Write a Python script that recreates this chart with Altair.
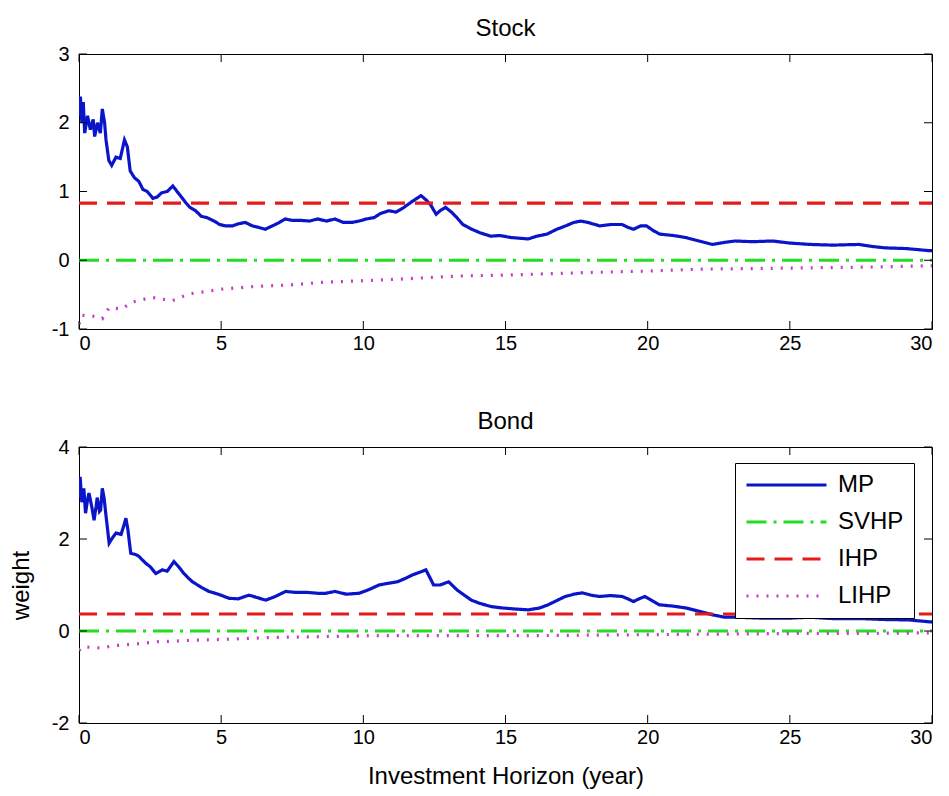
import altair as alt
import pandas as pd

# ---------------- data ----------------
x_ticks = [0, 5, 10, 15, 20, 25, 30]
stock_y_ticks = [-1, 0, 1, 2, 3]
bond_y_ticks = [-2, 0, 2, 4]

series_names = ["MP", "SVHP", "IHP", "LIHP"]

stock_mp_t = [0.0, 0.05, 0.1, 0.15, 0.2, 0.3, 0.4, 0.5, 0.55, 0.65, 0.75, 0.82, 0.9, 0.95,
              1.05, 1.15, 1.3, 1.45, 1.6, 1.7, 1.8, 1.95, 2.1, 2.25, 2.4, 2.6, 2.75, 2.9,
              3.1, 3.3, 3.45, 3.6, 3.75, 3.9, 4.1, 4.3, 4.5, 4.75, 4.95, 5.15, 5.4, 5.6,
              5.85, 6.1, 6.3, 6.55, 6.8, 7.05, 7.25, 7.5, 7.8, 8.1, 8.4, 8.7, 9.0, 9.3,
              9.6, 9.85, 10.1, 10.38, 10.6, 10.9, 11.15, 11.43, 11.7, 12.03, 12.2, 12.36,
              12.56, 12.7, 12.89, 13.1, 13.29, 13.5, 13.82, 14.1, 14.48, 14.8, 15.2, 15.5,
              15.8, 16.1, 16.46, 16.8, 17.12, 17.4, 17.65, 17.9, 18.31, 18.7, 19.1, 19.3,
              19.5, 19.75, 19.96, 20.2, 20.43, 20.9, 21.35, 21.8, 22.28, 22.7, 23.07, 23.7,
              24.39, 25.0, 25.71, 26.5, 27.43, 27.9, 28.35, 29.1, 29.88, 30.0]
stock_mp = [2.1, 2.38, 2.0, 2.3, 1.85, 2.1, 1.9, 2.05, 1.8, 2.0, 1.85, 2.2, 2.0, 1.75,
            1.45, 1.38, 1.5, 1.48, 1.75, 1.65, 1.3, 1.2, 1.15, 1.03, 1.0, 0.9, 0.92, 0.98,
            1.0, 1.08, 1.0, 0.92, 0.84, 0.77, 0.72, 0.64, 0.62, 0.57, 0.52, 0.5, 0.5, 0.53,
            0.55, 0.5, 0.48, 0.45, 0.5, 0.55, 0.6, 0.58, 0.58, 0.57, 0.6, 0.57, 0.6, 0.55,
            0.55, 0.57, 0.6, 0.62, 0.68, 0.72, 0.7, 0.77, 0.85, 0.94, 0.88, 0.81,
            0.67, 0.72, 0.77, 0.7, 0.62, 0.52, 0.45, 0.4, 0.35, 0.36, 0.33, 0.32,
            0.31, 0.35, 0.38, 0.45, 0.5, 0.55, 0.57, 0.55, 0.5, 0.52, 0.52, 0.48,
            0.45, 0.5, 0.5, 0.43, 0.38, 0.36, 0.33, 0.28, 0.23, 0.26, 0.28, 0.27,
            0.28, 0.25, 0.23, 0.22, 0.23, 0.2, 0.18, 0.17, 0.14, 0.14]

stock_lihp_t = [0.0, 0.1, 0.47, 0.82, 1.06, 1.5, 1.86, 2.56, 3.27, 3.87, 5.04, 6.2, 7.4,
                8.6, 9.85, 11.5, 13.3, 15.5, 17.8, 19.8, 21.8, 23.8, 25.7, 27.7, 30.0]
stock_lihp = [-0.93, -0.8, -0.81, -0.85, -0.69, -0.71, -0.61, -0.54, -0.59, -0.49, -0.42,
              -0.38, -0.36, -0.32, -0.3, -0.27, -0.23, -0.21, -0.18, -0.16, -0.13, -0.12,
              -0.11, -0.1, -0.08]

stock_ihp_t = [0.0, 30.0]
stock_ihp = [0.83, 0.83]
stock_svhp_t = [0.0, 30.0]
stock_svhp = [0.0, 0.0]

bond_mp_t = [0.0, 0.04, 0.1, 0.17, 0.23, 0.3, 0.35, 0.45, 0.53, 0.6, 0.64, 0.72, 0.76, 0.82,
             0.88, 0.94, 1.06, 1.15, 1.3, 1.48, 1.58, 1.65, 1.72, 1.82, 2.0, 2.11, 2.35, 2.5,
             2.7, 2.93, 3.1, 3.34, 3.5, 3.69, 3.85, 3.99, 4.3, 4.57, 4.9, 5.28, 5.6, 5.98,
             6.3, 6.57, 6.9, 7.27, 7.6, 8.0, 8.4, 8.68, 9.0, 9.4, 9.85, 10.2, 10.55, 10.9,
             11.2, 11.5, 11.73, 12.0, 12.2, 12.35, 12.47, 12.7, 13.0, 13.15, 13.3, 13.55,
             13.8, 14.1, 14.5, 14.9, 15.3, 15.8, 16.2, 16.5, 16.8, 17.1, 17.4, 17.7, 18.0,
             18.3, 18.7, 19.1, 19.3, 19.5, 19.7, 19.9, 20.1, 20.4, 20.9, 21.35, 21.8, 22.3,
             22.7, 23.1, 24.0, 25.0, 25.7, 26.5, 27.5, 28.3, 29.2, 29.9, 30.0]
bond_mp = [2.9, 3.35, 2.8, 3.1, 2.56, 2.85, 3.0, 2.7, 2.41, 2.7, 2.9, 2.6, 2.63, 3.1,
           2.9, 2.56, 1.91, 2.0, 2.13, 2.1, 2.3, 2.45, 2.2, 1.69, 1.66, 1.62, 1.47, 1.4,
           1.25, 1.33, 1.3, 1.51, 1.4, 1.25, 1.15, 1.07, 0.95, 0.86, 0.8, 0.71, 0.7, 0.78,
           0.72, 0.67, 0.75, 0.86, 0.84, 0.84, 0.82, 0.82, 0.86, 0.8, 0.82, 0.9, 1.0, 1.04,
           1.07, 1.15, 1.22, 1.28, 1.33, 1.15, 1.0, 1.0, 1.07, 0.98, 0.89, 0.78,
           0.67, 0.6, 0.53, 0.5, 0.48, 0.46, 0.5, 0.57, 0.66, 0.75, 0.8, 0.83, 0.78,
           0.75, 0.77, 0.75, 0.7, 0.64, 0.7, 0.75, 0.68, 0.57, 0.54, 0.5, 0.43, 0.35,
           0.3, 0.3, 0.28, 0.28, 0.3, 0.27, 0.27, 0.25, 0.24, 0.2, 0.2]

bond_lihp_t = [0.0, 0.12, 0.5, 0.82, 1.2, 1.65, 2.2, 2.8, 3.4, 4.0, 5.16, 6.0, 6.8, 8.0,
               8.7, 10.4, 12.0, 14.0, 16.0, 18.0, 20.0, 22.0, 24.0, 26.0, 28.0, 30.0]
bond_lihp = [-0.42, -0.34, -0.36, -0.37, -0.32, -0.3, -0.27, -0.23, -0.22, -0.2, -0.18,
             -0.16, -0.14, -0.13, -0.12, -0.1, -0.1, -0.1, -0.1, -0.09, -0.08, -0.07,
             -0.06, -0.05, -0.05, -0.04]

bond_ihp_t = [0.0, 30.0]
bond_ihp = [0.37, 0.37]
bond_svhp_t = [0.0, 30.0]
bond_svhp = [0.0, 0.0]

# ---------------- styling ----------------
COLORS = ["#0a14c8", "#22dd22", "#e41a1c", "#c43cc4"]
DASHES = [[1, 0], [20, 7, 3, 7], [18, 10], [2, 8]]
FONT = "Liberation Sans"
W, H1, H2 = 853, 275, 276
TICK = 8


def frame(parts):
    rows = []
    for name, ts, vs in parts:
        for t, v in zip(ts, vs):
            rows.append({"t": t, "w": v, "series": name})
    return pd.DataFrame(rows)


stock_df = frame([("MP", stock_mp_t, stock_mp), ("SVHP", stock_svhp_t, stock_svhp),
                  ("IHP", stock_ihp_t, stock_ihp), ("LIHP", stock_lihp_t, stock_lihp)])
bond_df = frame([("MP", bond_mp_t, bond_mp), ("SVHP", bond_svhp_t, bond_svhp),
                 ("IHP", bond_ihp_t, bond_ihp), ("LIHP", bond_lihp_t, bond_lihp)])


def panel(df, title, ydom, yticks, H, legend, xtitle=None, ytitle=None):
    xscale = alt.Scale(domain=[0, 30], nice=False, zero=False)
    yscale = alt.Scale(domain=ydom, nice=False, zero=False)
    xaxis = alt.Axis(values=x_ticks, ticks=False, domain=False, grid=False,
                     labelPadding=4, labelFontSize=20, labelFont=FONT, labelColor="black",
                     title=xtitle, titleFont=FONT, titleFontSize=24, titleFontWeight="normal",
                     titleColor="black", titlePadding=17, labelExpr="'' + datum.value")
    yaxis = alt.Axis(values=yticks, ticks=False, domain=False, grid=False,
                     labelPadding=10, labelFontSize=20, labelFont=FONT, labelColor="black",
                     title=ytitle, titleFont=FONT, titleFontSize=24, titleFontWeight="normal",
                     titleColor="black", titlePadding=18, labelExpr="'' + datum.value")
    X = alt.X("t:Q", scale=xscale, axis=xaxis)
    Y = alt.Y("w:Q", scale=yscale, axis=yaxis)

    color = alt.Color("series:N", scale=alt.Scale(domain=series_names, range=COLORS),
                      legend=legend)
    dash = alt.StrokeDash("series:N", scale=alt.Scale(domain=series_names, range=DASHES),
                          legend=legend)

    lines = alt.Chart(df).mark_line(strokeWidth=3.2, clip=True).encode(
        x=X, y=Y, color=color, strokeDash=dash)

    xt = pd.DataFrame({"t": x_ticks})
    yt = pd.DataFrame({"w": yticks})
    tb = alt.Chart(xt).mark_rule(color="black", strokeWidth=1).encode(
        x=X, y=alt.value(H), y2=alt.value(H - TICK))
    tt = alt.Chart(xt).mark_rule(color="black", strokeWidth=1).encode(
        x=X, y=alt.value(0), y2=alt.value(TICK))
    tl = alt.Chart(yt).mark_rule(color="black", strokeWidth=1).encode(
        y=Y, x=alt.value(0), x2=alt.value(TICK))
    tr = alt.Chart(yt).mark_rule(color="black", strokeWidth=1).encode(
        y=Y, x=alt.value(W), x2=alt.value(W - TICK))

    return alt.layer(lines, tb, tt, tl, tr).properties(
        width=W, height=H,
        title=alt.TitleParams(title, font=FONT, fontSize=24, fontWeight="normal",
                              color="black", anchor="middle", offset=3))


bond_legend = alt.Legend(title=None, orient="none", legendX=656, legendY=16,
                         symbolType="stroke", symbolSize=6400, symbolStrokeWidth=3,
                         clipHeight=24, labelFontSize=24, labelFont=FONT, labelColor="black",
                         labelOffset=10, rowPadding=13, padding=10, strokeColor="black",
                         fillColor="white", cornerRadius=0)

top = panel(stock_df, "Stock", [-1, 3], stock_y_ticks, H1, None)
bottom = panel(bond_df, "Bond", [-2, 4], bond_y_ticks, H2, bond_legend,
               xtitle="Investment Horizon (year)", ytitle="weight")

chart = alt.vconcat(top, bottom, spacing=55).resolve_scale(
    color="independent", strokeDash="independent").resolve_legend(
    color="independent", strokeDash="independent").properties(
    padding={"left": 8, "top": 16, "right": 5, "bottom": 5},
    background="white").configure_view(stroke="black", strokeWidth=1)

chart.save("out.html", embed_options={"renderer": "svg", "actions": False})
